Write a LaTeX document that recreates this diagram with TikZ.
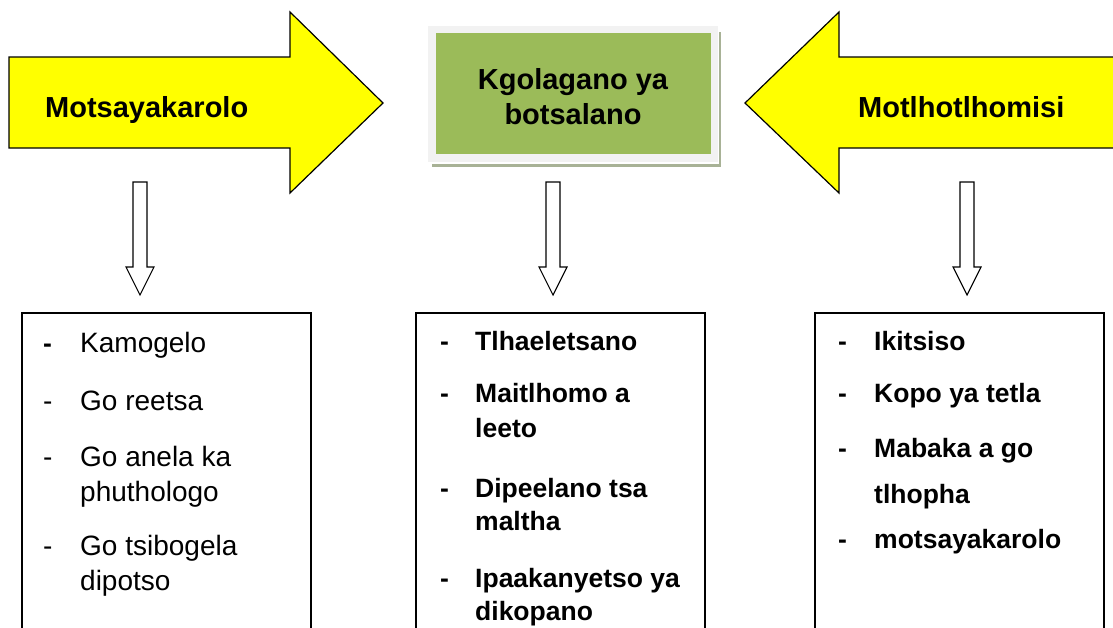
\documentclass[tikz,border=0pt]{standalone}
\usepackage{fontspec}
\setmainfont{Liberation Sans}
\definecolor{arrowyellow}{HTML}{FFFF00}
\definecolor{hubgreen}{HTML}{9BBB59}
\definecolor{hubframe}{HTML}{F2F2F2}
\definecolor{hubshadow}{HTML}{A8B296}
\tikzset{
    bigarrow/.style={draw=black, line width=1.2pt, fill=arrowyellow, line join=miter},
    downarrow/.style={draw=black, line width=1.1pt, fill=white},
    listbox/.style={draw=black, line width=1.2pt},
    headtext/.style={font=\fontsize{29}{33}\selectfont\bfseries, anchor=base west, inner sep=0pt},
    hubtext/.style={font=\fontsize{29}{35}\selectfont\bfseries, align=center, inner sep=0pt},
    itemtext/.style={font=\fontsize{28}{35}\selectfont, anchor=base west, inner sep=0pt},
    itembold/.style={itemtext, font=\fontsize{26.5}{35}\selectfont\bfseries}
}
\begin{document}
\begin{tikzpicture}[x=1pt, y=-1pt]
                \useasboundingbox (0,0) rectangle (1113,627);
                \draw[bigarrow] (9,57) -- (290,57) -- (290,12) -- (383,103) -- (290,193) -- (290,148) -- (9,148) -- cycle;
                \draw[bigarrow] (1118,57) -- (839,57) -- (839,12) -- (745,103) -- (839,193) -- (839,148) -- (1118,148) -- cycle;
                \node[headtext] (src) at (45,117) {Motsayakarolo};
                \node[headtext] (rec) at (858,117) {Motlhotlhomisi};

                \fill[hubshadow] (432,32) rectangle (721,167);
                \fill[white] (430,28) rectangle (719,164);
                \fill[hubframe] (428,26) rectangle (718,162);
                \fill[hubgreen] (436,33) rectangle (711,154);
                \node[hubtext] (hub) at (573,97) {Kgolagano ya\\botsalano};

                \foreach \x in {140,553,967}
                    \draw[downarrow] (\x-7,182) -- (\x+7,182) -- (\x+7,267) -- (\x+14,267) -- (\x,295)
                        -- (\x-14,267) -- (\x-7,267) -- cycle;

                \foreach \x in {22,416,815}
                    \draw[listbox] (\x,640) -- (\x,313) -- (\x+289,313) -- (\x+289,640);

                \node[itembold] (ld1) at (43,352) {-};
                \foreach \y [count=\i from 2] in {410,466,555}
                    \node[itemtext] (ld\i) at (43,\y) {-};
                \foreach \y/\t [count=\i] in {352/Kamogelo, 410/Go reetsa, 466/Go anela ka,
                        501/phuthologo, 555/Go tsibogela, 590/dipotso}
                    \node[itemtext] (lt\i) at (80,\y) {\t};

                \foreach \y [count=\i] in {350,402,497,587}
                    \node[itembold] (cd\i) at (440,\y) {-};
                \foreach \y/\t [count=\i] in {350/Tlhaeletsano, 402/Maitlhomo a, 437/leeto,
                        497/Dipeelano tsa, 530/maltha, 587/Ipaakanyetso ya, 620/dikopano}
                    \node[itembold] (ct\i) at (475,\y) {\t};

                \foreach \y [count=\i] in {350,402,457,548}
                    \node[itembold] (rd\i) at (838,\y) {-};
                \foreach \y/\t [count=\i] in {350/Ikitsiso, 402/Kopo ya tetla, 457/Mabaka a go,
                        503/tlhopha, 548/motsayakarolo}
                    \node[itembold] (rt\i) at (874,\y) {\t};
\end{tikzpicture}
\end{document}
